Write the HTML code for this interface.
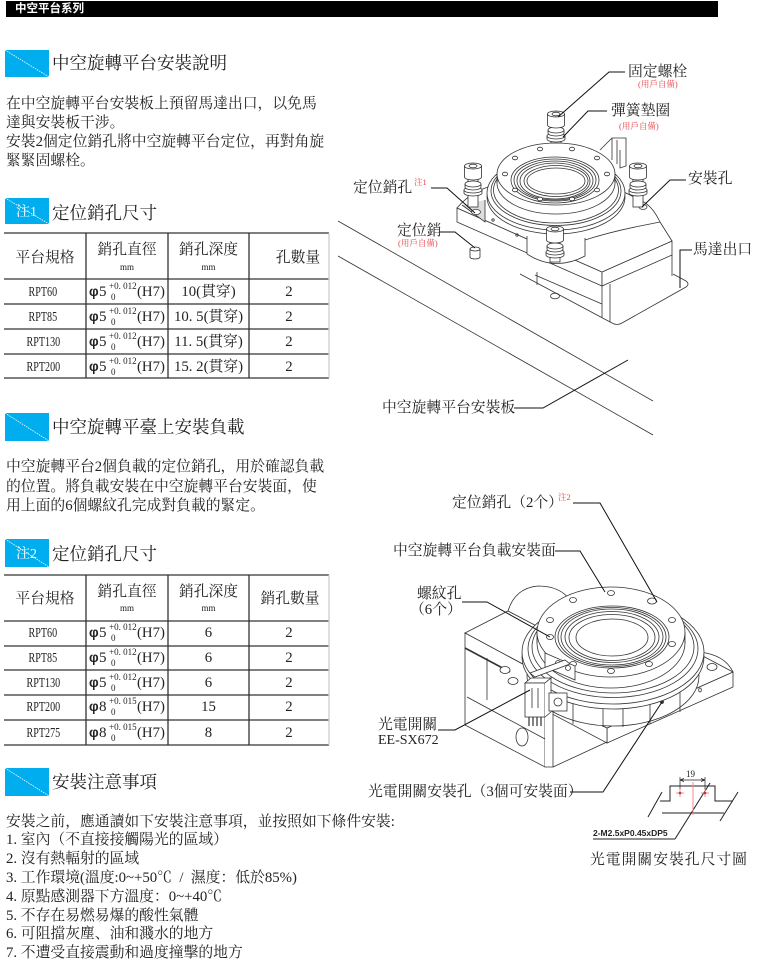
<!DOCTYPE html>
<html><head><meta charset="utf-8"><title>中空平台系列</title>
<style>
html,body{margin:0;padding:0;background:#fff;}
#p{position:relative;width:758px;height:969px;overflow:hidden;background:#fff;}
.t{position:absolute;white-space:nowrap;font-family:"Liberation Serif","Noto Serif CJK SC",serif;color:#222;font-size:14.8px;line-height:20px;}
.c{text-align:center;}
.ti{font-size:17.5px;line-height:24px;color:#222;}
.box{position:absolute;left:5px;width:44px;background:#00aeef;overflow:hidden;}
.box svg{position:absolute;left:0;top:0;}
.bt{position:absolute;left:11px;color:#fff;font-family:"Liberation Serif","Noto Serif CJK SC",serif;font-size:14px;line-height:20px;white-space:nowrap;}
.r{color:#e8454a;font-size:8.5px;line-height:10px;}
.s{font-size:9px;line-height:10px;}
.rpt{display:inline-block;font-size:14px;transform:scaleX(0.72);}
.ph{font-family:"Liberation Sans",sans-serif;font-weight:bold;font-size:13.5px;}
#g{position:absolute;left:0;top:0;}
</style></head><body><div id="p">

<svg id="g" width="758" height="969" viewBox="0 0 758 969">
<!-- header bar -->
<rect x="6" y="1" width="712" height="16" fill="#000"/>

<!-- TABLE 1 -->
<g stroke="#333" stroke-width="1.3">
<line x1="4" y1="233" x2="329" y2="233"/>
<line x1="4" y1="279" x2="329" y2="279"/>
<line x1="4" y1="304" x2="329" y2="304"/>
<line x1="4" y1="329" x2="329" y2="329"/>
<line x1="4" y1="354" x2="329" y2="354"/>
<line x1="4" y1="378" x2="329" y2="378"/>
<line x1="86" y1="233" x2="86" y2="378"/>
<line x1="168" y1="233" x2="168" y2="378"/>
<line x1="249" y1="233" x2="249" y2="378"/>
</g>
<line x1="329" y1="233" x2="329" y2="378" stroke="#ccc" stroke-width="1.3"/>

<!-- TABLE 2 -->
<g stroke="#333" stroke-width="1.3">
<line x1="4" y1="575" x2="329" y2="575"/>
<line x1="4" y1="621" x2="329" y2="621"/>
<line x1="4" y1="646" x2="329" y2="646"/>
<line x1="4" y1="670" x2="329" y2="670"/>
<line x1="4" y1="695" x2="329" y2="695"/>
<line x1="4" y1="720" x2="329" y2="720"/>
<line x1="4" y1="745" x2="329" y2="745"/>
<line x1="86" y1="575" x2="86" y2="745"/>
<line x1="168" y1="575" x2="168" y2="745"/>
<line x1="249" y1="575" x2="249" y2="745"/>
</g>
<line x1="329" y1="575" x2="329" y2="745" stroke="#ccc" stroke-width="1.3"/>

<!-- ========== DIAGRAM 1 ========== -->
<g fill="none" stroke="#333" stroke-width="0.8">
<line x1="338" y1="221" x2="653" y2="401"/>
<line x1="338" y1="256" x2="653" y2="435"/>
<path d="M520,274 L612,323 Q617,326 622,323 L686,287 Q690,284 686,281 L673,274"/>
<path d="M537,272 V285 M602,286 V318 M610,284 V322 M672,255 V276"/>
<ellipse cx="555" cy="296" rx="4.5" ry="2.8"/>
<path d="M535,275 L602,304"/>
<path d="M457,208 L602,272 L602,286 L457,222 Z" fill="#fff"/>
<path d="M602,272 L672,241 L672,255 L602,286 Z" fill="#fff"/>
<path d="M457,208 L602,272 L672,241 L660,222 Q652,205 640,200 L560,160 L480,190 Q466,197 457,208 Z" fill="#fff"/>
<path d="M527,236 V254 Q555,272 585,256 V238" fill="#fff"/>
<path d="M585,240 Q610,232 640,226 L660,222"/>
<path d="M462,205 L485,222 L485,200" fill="#ddd"/>
<ellipse cx="476" cy="212" rx="4.5" ry="2.6" fill="#fff"/>
<circle cx="493" cy="220" r="1.2"/>
<circle cx="517" cy="235" r="1.2"/>
<ellipse cx="643" cy="207" rx="4" ry="2.4"/>

<ellipse cx="556" cy="197" rx="69" ry="37" fill="#fff"/>
<ellipse cx="556" cy="193" rx="69" ry="37" fill="#fff"/>
<ellipse cx="556" cy="191" rx="65" ry="34.5"/>
<ellipse cx="556" cy="190" rx="62.5" ry="33"/>
<ellipse cx="556" cy="183" rx="59" ry="31" fill="#fff"/>
<path d="M497,174 V183 M615,174 V183"/>
<ellipse cx="556" cy="174" rx="59" ry="31" fill="#fff"/>
<ellipse cx="555" cy="180" rx="44" ry="23"/>
<ellipse cx="555" cy="180" rx="41" ry="21"/>
<ellipse cx="555" cy="180.5" rx="38" ry="19.5"/>
<ellipse cx="555" cy="181" rx="35" ry="18"/>
<ellipse cx="556" cy="181" rx="32" ry="15.5"/>
<ellipse cx="556" cy="181" rx="29" ry="13"/>
<g fill="#fff">
<ellipse cx="607" cy="174" rx="2.6" ry="1.8"/>
<ellipse cx="597" cy="190" rx="2.6" ry="1.8"/>
<ellipse cx="572" cy="199" rx="2.6" ry="1.8"/>
<ellipse cx="540" cy="199" rx="2.6" ry="1.8"/>
<ellipse cx="515" cy="190" rx="2.6" ry="1.8"/>
<ellipse cx="505" cy="174" rx="2.6" ry="1.8"/>
<ellipse cx="515" cy="158" rx="2.6" ry="1.8"/>
<ellipse cx="540" cy="149" rx="2.6" ry="1.8"/>
<ellipse cx="572" cy="149" rx="2.6" ry="1.8"/>
<ellipse cx="597" cy="158" rx="2.6" ry="1.8"/>
</g>
<path d="M600,150 L612,138 L626,138 L626,166 L620,168 L620,150" fill="#fff"/>
<path d="M612,138 V160 M617,140 V164"/>

<g transform="translate(556,111)" fill="#fff">
<rect x="-5" y="14" width="10" height="18"/>
<path d="M-9,25 v3 a9,3 0 0,0 18,0 v-3"/><ellipse cx="0" cy="25" rx="9" ry="3"/>
<path d="M-8,19 v3 a8,3 0 0,0 16,0 v-3"/><ellipse cx="0" cy="19" rx="8" ry="3"/>
<path d="M-8.5,3 V14 A8.5,3 0 0,0 8.5,14 V3"/><ellipse cx="0" cy="3" rx="8.5" ry="3"/>
<ellipse cx="0" cy="3" rx="4" ry="1.8"/>
</g>
<g transform="translate(473,163)" fill="#fff">
<rect x="-5" y="14" width="10" height="30"/>
<path d="M-9,27 v3 a9,3 0 0,0 18,0 v-3"/><ellipse cx="0" cy="27" rx="9" ry="3"/>
<path d="M-8,21 v3 a8,3 0 0,0 16,0 v-3"/><ellipse cx="0" cy="21" rx="8" ry="3"/>
<path d="M-8.5,3 V14 A8.5,3 0 0,0 8.5,14 V3"/><ellipse cx="0" cy="3" rx="8.5" ry="3"/>
<ellipse cx="0" cy="3" rx="4" ry="1.8"/>
</g>
<g transform="translate(638,163)" fill="#fff">
<rect x="-5" y="14" width="10" height="30"/>
<path d="M-9,27 v3 a9,3 0 0,0 18,0 v-3"/><ellipse cx="0" cy="27" rx="9" ry="3"/>
<path d="M-8,21 v3 a8,3 0 0,0 16,0 v-3"/><ellipse cx="0" cy="21" rx="8" ry="3"/>
<path d="M-8.5,3 V14 A8.5,3 0 0,0 8.5,14 V3"/><ellipse cx="0" cy="3" rx="8.5" ry="3"/>
<ellipse cx="0" cy="3" rx="4" ry="1.8"/>
</g>
<g transform="translate(555,226)" fill="#fff">
<rect x="-5" y="14" width="10" height="22"/>
<path d="M-9,26 v3 a9,3 0 0,0 18,0 v-3"/><ellipse cx="0" cy="26" rx="9" ry="3"/>
<path d="M-8,20 v3 a8,3 0 0,0 16,0 v-3"/><ellipse cx="0" cy="20" rx="8" ry="3"/>
<path d="M-8.5,3 V14 A8.5,3 0 0,0 8.5,14 V3"/><ellipse cx="0" cy="3" rx="8.5" ry="3"/>
<ellipse cx="0" cy="3" rx="4" ry="1.8"/>
</g>
<path d="M470,249 V257 A5,2 0 0,0 480,257 V249" fill="#fff"/>
<ellipse cx="475" cy="249" rx="5" ry="2" fill="#fff"/>
</g>

<g fill="none" stroke="#111" stroke-width="1">
<path d="M625,72 H609 L558,117"/>
<path d="M607,111 H588 L563,137"/>
<path d="M431,188 H447 L475,213"/>
<path d="M440,232 H455 L475,248"/>
<path d="M686,180 H670 L642,207"/>
<path d="M692,250 H680 V288"/>
<path d="M514,408 H543 L628,360"/>
</g>

<!-- ========== DIAGRAM 2 ========== -->
<g fill="none" stroke="#333" stroke-width="0.8">
<path d="M607,728 L733,672 L733,687 L607,743 Z" fill="#fff"/>
<path d="M490,666 L607,728 L607,743 L490,681 Z" fill="#fff"/>
<path d="M490,666 L607,728 L733,672 L616,610 Z" fill="#fff"/>
<ellipse cx="712" cy="667" rx="5" ry="3.5"/>
<ellipse cx="607" cy="719" rx="5" ry="3.5"/>
<path d="M700,652 Q725,655 733,672"/>
<path d="M508,611 Q515,588 538,586 Q560,586 570,600" fill="#fff"/>
<path d="M465,633 L508,611 L590,654 L545,676 Z" fill="#fff"/>
<path d="M465,633 L545,676 L545,767 L465,725 Z" fill="#fff"/>
<path d="M545,676 L553,672 L553,767 L545,767" fill="#fff"/>
<path d="M553,767 L607,742"/>
<path d="M465,648 L510,672" stroke-width="1.6"/>
<path d="M467,697 L545,739"/>
<path d="M487,658 V700"/>
<ellipse cx="522" cy="737" rx="6" ry="9"/>
<ellipse cx="505" cy="670" rx="5" ry="3.5" fill="#fff"/>
<ellipse cx="513" cy="681" rx="5" ry="3.5" fill="#fff"/>
<ellipse cx="613" cy="676" rx="86" ry="50" fill="#fff"/>
<path d="M573,703 V724 M603,706 V727 M623,706 V727 M650,703 V724 M680,690 V712"/>
<ellipse cx="662" cy="702" rx="1.5" ry="1.5" fill="#333"/>
<ellipse cx="700" cy="690" rx="1.3" ry="2"/>
<ellipse cx="613" cy="657" rx="91" ry="52" fill="#fff"/>
<ellipse cx="613" cy="652" rx="91" ry="52" fill="#fff"/>
<ellipse cx="613" cy="649" rx="85" ry="48.5"/>
<ellipse cx="613" cy="647" rx="81" ry="46"/>
<ellipse cx="611" cy="643" rx="74" ry="45" fill="#fff"/>
<path d="M537,632 V643 M685,632 V643"/>
<ellipse cx="611" cy="632" rx="74" ry="45" fill="#fff"/>
<ellipse cx="612" cy="637" rx="57" ry="31"/>
<ellipse cx="612" cy="637" rx="54" ry="29.5"/>
<ellipse cx="612" cy="637" rx="51" ry="28"/>
<ellipse cx="612" cy="637" rx="47" ry="25.5"/>
<ellipse cx="612" cy="637.5" rx="43" ry="23"/>
<ellipse cx="612" cy="637.5" rx="36" ry="18.5"/>
<g fill="#fff">
<ellipse cx="672" cy="644" rx="3.5" ry="2.5"/>
<ellipse cx="649" cy="664" rx="3.5" ry="2.5"/>
<ellipse cx="611" cy="671" rx="3.5" ry="2.5"/>
<ellipse cx="573" cy="664" rx="3.5" ry="2.5"/>
<ellipse cx="550" cy="637" rx="3.5" ry="2.5"/>
<ellipse cx="550" cy="620" rx="3.5" ry="2.5"/>
<ellipse cx="573" cy="600" rx="3.5" ry="2.5"/>
<ellipse cx="611" cy="593" rx="3.5" ry="2.5"/>
<ellipse cx="652" cy="601" rx="4.5" ry="3"/>
<ellipse cx="672" cy="620" rx="3.5" ry="2.5"/>
</g>
<path d="M545,653 L575,666 L575,680 L545,667 Z" fill="#fff"/>
<circle cx="558" cy="663" r="2.5"/><circle cx="568" cy="668" r="2.5"/>
<path d="M530,673 L565,660 L570,664 L535,677 Z" fill="#fff"/>
<path d="M525,683 L531,678 L551,678 L545,683 Z" fill="#fff"/>
<rect x="525" y="683" width="20" height="34" fill="#fff"/>
<path d="M545,683 L551,678 L551,712 L545,717" fill="#fff"/>
<path d="M532,688 V708 M538,688 V708"/>
<path d="M529,717 V726 M533,717 V726 M537,717 V726 M541,717 V726" stroke-width="1.2"/>
<rect x="549" y="693" width="18" height="18" fill="#fff"/>
<circle cx="558" cy="702" r="4"/>
</g>

<g fill="none" stroke="#111" stroke-width="1">
<path d="M573,503 H600 L657,602"/>
<path d="M555,551 H580 L605,592"/>
<path d="M462,602 H487 L550,637"/>
<path d="M438,730 H455 L530,690"/>
<path d="M570,792 H603 L662,702"/>
</g>

<g fill="none" stroke="#222" stroke-width="1">
<path d="M660,801 H670 V786 H715 V801 H733"/>
<path d="M662,813 H724"/>
<path d="M648,817 L662,792"/>
<path d="M720,821 L738,792"/>
<path d="M675,839 L710,783"/>
<path d="M593,839 H675"/>
<path d="M680,777 V793 M705,777 V793" stroke-width="0.7"/>
<path d="M680,780 H705" stroke-width="0.7"/>
<path d="M680,780 l4,-1.5 M680,780 l4,1.5 M705,780 l-4,-1.5 M705,780 l-4,1.5" stroke-width="0.7"/>
</g>
<g stroke="#f08a8a" stroke-width="1" fill="none">
<path d="M693,782 V815"/>
<path d="M676,793 H684 M680,789 V797 M701,793 H709 M705,789 V797"/>
</g>
<circle cx="680" cy="793" r="1.3" fill="#c33"/>
<circle cx="705" cy="793" r="1.3" fill="#c33"/>
</svg>

<div class="t" style="left:15px;top:1px;line-height:16px;font-family:'Liberation Sans','Noto Sans CJK SC',sans-serif;font-weight:bold;font-size:11.5px;color:#fff;">中空平台系列</div>

<div class="box" style="top:50px;height:27px;"><svg width="44" height="27"><line x1="0" y1="0" x2="44" y2="27" stroke="#fff" stroke-width="0.8" stroke-dasharray="1.5,1"/></svg></div>
<div class="t ti" style="left:52px;top:51px;">中空旋轉平台安裝說明</div>
<div class="t" style="left:6px;top:93.5px;">在中空旋轉平台安裝板上預留馬達出口，以免馬</div>
<div class="t" style="left:6px;top:112.5px;">達與安裝板干涉。</div>
<div class="t" style="left:6px;top:131.5px;">安裝2個定位銷孔將中空旋轉平台定位，再對角旋</div>
<div class="t" style="left:6px;top:150.5px;">緊緊固螺栓。</div>

<div class="box" style="top:198px;height:26px;"><svg width="44" height="26"><line x1="0" y1="0" x2="44" y2="26" stroke="#fff" stroke-width="0.8" stroke-dasharray="1.5,1"/></svg><div class="bt" style="top:5px;">注1</div></div>
<div class="t ti" style="left:52px;top:201px;">定位銷孔尺寸</div>

<div class="t c" style="left:4px;width:82px;top:248px;">平台規格</div>
<div class="t c" style="left:86px;width:82px;top:240px;">銷孔直徑</div>
<div class="t c s" style="left:86px;width:82px;top:262px;">mm</div>
<div class="t c" style="left:168px;width:81px;top:240px;">銷孔深度</div>
<div class="t c s" style="left:168px;width:81px;top:262px;">mm</div>
<div class="t c" style="left:258px;width:80px;top:248px;">孔數量</div>

<div class="t c" style="left:2px;width:82px;top:282px;"><span class="rpt">RPT60</span></div>
<div class="t ph" style="left:89px;top:282px;">φ</div><div class="t" style="left:99px;top:282px;font-size:15px;">5</div>
<div class="t s" style="left:109px;top:281px;">+0. 012</div><div class="t s" style="left:111px;top:292px;">0</div>
<div class="t" style="left:137px;top:282px;">(H7)</div>
<div class="t c" style="left:168px;width:81px;top:282px;">10(貫穿)</div>
<div class="t c" style="left:249px;width:80px;top:282px;">2</div>

<div class="t c" style="left:2px;width:82px;top:307px;"><span class="rpt">RPT85</span></div>
<div class="t ph" style="left:89px;top:307px;">φ</div><div class="t" style="left:99px;top:307px;font-size:15px;">5</div>
<div class="t s" style="left:109px;top:306px;">+0. 012</div><div class="t s" style="left:111px;top:317px;">0</div>
<div class="t" style="left:137px;top:307px;">(H7)</div>
<div class="t c" style="left:168px;width:81px;top:307px;">10. 5(貫穿)</div>
<div class="t c" style="left:249px;width:80px;top:307px;">2</div>

<div class="t c" style="left:2px;width:82px;top:332px;"><span class="rpt">RPT130</span></div>
<div class="t ph" style="left:89px;top:332px;">φ</div><div class="t" style="left:99px;top:332px;font-size:15px;">5</div>
<div class="t s" style="left:109px;top:331px;">+0. 012</div><div class="t s" style="left:111px;top:342px;">0</div>
<div class="t" style="left:137px;top:332px;">(H7)</div>
<div class="t c" style="left:168px;width:81px;top:332px;">11. 5(貫穿)</div>
<div class="t c" style="left:249px;width:80px;top:332px;">2</div>

<div class="t c" style="left:2px;width:82px;top:357px;"><span class="rpt">RPT200</span></div>
<div class="t ph" style="left:89px;top:357px;">φ</div><div class="t" style="left:99px;top:357px;font-size:15px;">5</div>
<div class="t s" style="left:109px;top:356px;">+0. 012</div><div class="t s" style="left:111px;top:367px;">0</div>
<div class="t" style="left:137px;top:357px;">(H7)</div>
<div class="t c" style="left:168px;width:81px;top:357px;">15. 2(貫穿)</div>
<div class="t c" style="left:249px;width:80px;top:357px;">2</div>

<div class="box" style="top:413px;height:28px;"><svg width="44" height="28"><line x1="0" y1="0" x2="44" y2="28" stroke="#fff" stroke-width="0.8" stroke-dasharray="1.5,1"/></svg></div>
<div class="t ti" style="left:52px;top:415px;">中空旋轉平臺上安裝負載</div>
<div class="t" style="left:6px;top:457px;">中空旋轉平台2個負載的定位銷孔，用於確認負載</div>
<div class="t" style="left:6px;top:476.5px;">的位置。將負載安裝在中空旋轉平台安裝面，使</div>
<div class="t" style="left:6px;top:496px;">用上面的6個螺紋孔完成對負載的緊定。</div>

<div class="box" style="top:539px;height:28px;"><svg width="44" height="28"><line x1="0" y1="0" x2="44" y2="28" stroke="#fff" stroke-width="0.8" stroke-dasharray="1.5,1"/></svg><div class="bt" style="top:6px;">注2</div></div>
<div class="t ti" style="left:52px;top:542px;">定位銷孔尺寸</div>

<div class="t c" style="left:4px;width:82px;top:589px;">平台規格</div>
<div class="t c" style="left:86px;width:82px;top:582px;">銷孔直徑</div>
<div class="t c s" style="left:86px;width:82px;top:603px;">mm</div>
<div class="t c" style="left:168px;width:81px;top:582px;">銷孔深度</div>
<div class="t c s" style="left:168px;width:81px;top:603px;">mm</div>
<div class="t c" style="left:249px;width:82px;top:589px;">銷孔數量</div>

<div class="t c" style="left:2px;width:82px;top:623px;"><span class="rpt">RPT60</span></div>
<div class="t ph" style="left:89px;top:623px;">φ</div><div class="t" style="left:99px;top:623px;font-size:15px;">5</div>
<div class="t s" style="left:109px;top:622px;">+0. 012</div><div class="t s" style="left:111px;top:633px;">0</div>
<div class="t" style="left:137px;top:623px;">(H7)</div>
<div class="t c" style="left:168px;width:81px;top:623px;">6</div>
<div class="t c" style="left:249px;width:80px;top:623px;">2</div>

<div class="t c" style="left:2px;width:82px;top:648px;"><span class="rpt">RPT85</span></div>
<div class="t ph" style="left:89px;top:648px;">φ</div><div class="t" style="left:99px;top:648px;font-size:15px;">5</div>
<div class="t s" style="left:109px;top:647px;">+0. 012</div><div class="t s" style="left:111px;top:658px;">0</div>
<div class="t" style="left:137px;top:648px;">(H7)</div>
<div class="t c" style="left:168px;width:81px;top:648px;">6</div>
<div class="t c" style="left:249px;width:80px;top:648px;">2</div>

<div class="t c" style="left:2px;width:82px;top:673px;"><span class="rpt">RPT130</span></div>
<div class="t ph" style="left:89px;top:673px;">φ</div><div class="t" style="left:99px;top:673px;font-size:15px;">5</div>
<div class="t s" style="left:109px;top:672px;">+0. 012</div><div class="t s" style="left:111px;top:683px;">0</div>
<div class="t" style="left:137px;top:673px;">(H7)</div>
<div class="t c" style="left:168px;width:81px;top:673px;">6</div>
<div class="t c" style="left:249px;width:80px;top:673px;">2</div>

<div class="t c" style="left:2px;width:82px;top:697px;"><span class="rpt">RPT200</span></div>
<div class="t ph" style="left:89px;top:697px;">φ</div><div class="t" style="left:99px;top:697px;font-size:15px;">8</div>
<div class="t s" style="left:109px;top:696px;">+0. 015</div><div class="t s" style="left:111px;top:707px;">0</div>
<div class="t" style="left:137px;top:697px;">(H7)</div>
<div class="t c" style="left:168px;width:81px;top:697px;">15</div>
<div class="t c" style="left:249px;width:80px;top:697px;">2</div>

<div class="t c" style="left:2px;width:82px;top:723px;"><span class="rpt">RPT275</span></div>
<div class="t ph" style="left:89px;top:723px;">φ</div><div class="t" style="left:99px;top:723px;font-size:15px;">8</div>
<div class="t s" style="left:109px;top:722px;">+0. 015</div><div class="t s" style="left:111px;top:733px;">0</div>
<div class="t" style="left:137px;top:723px;">(H7)</div>
<div class="t c" style="left:168px;width:81px;top:723px;">8</div>
<div class="t c" style="left:249px;width:80px;top:723px;">2</div>

<div class="box" style="top:768px;height:28px;"><svg width="44" height="28"><line x1="0" y1="0" x2="44" y2="28" stroke="#fff" stroke-width="0.8" stroke-dasharray="1.5,1"/></svg></div>
<div class="t ti" style="left:52px;top:770px;">安裝注意事項</div>
<div class="t" style="left:6px;top:811.7px;">安裝之前，應通讀如下安裝注意事項，並按照如下條件安裝:</div>
<div class="t" style="left:6px;top:830px;">1. 室內（不直接接觸陽光的區域）</div>
<div class="t" style="left:6px;top:849px;">2. 沒有熱輻射的區域</div>
<div class="t" style="left:6px;top:868px;">3. 工作環境(溫度:0~+50℃ &nbsp;/ &nbsp;濕度：低於85%)</div>
<div class="t" style="left:6px;top:886.7px;">4. 原點感測器下方溫度：0~+40℃</div>
<div class="t" style="left:6px;top:905.7px;">5. 不存在易燃易爆的酸性氣體</div>
<div class="t" style="left:6px;top:924.3px;">6. 可阻擋灰塵、油和濺水的地方</div>
<div class="t" style="left:6px;top:943.3px;">7. 不遭受直接震動和過度撞擊的地方</div>

<div class="t" style="left:628px;top:62px;">固定螺栓</div>
<div class="t r" style="left:638px;top:79px;">(用戶自備)</div>
<div class="t" style="left:611px;top:101px;">彈簧墊圈</div>
<div class="t r" style="left:619px;top:121px;">(用戶自備)</div>
<div class="t" style="left:353px;top:178px;">定位銷孔</div>
<div class="t r" style="left:414px;top:177px;">注1</div>
<div class="t" style="left:397px;top:221px;">定位銷</div>
<div class="t r" style="left:398px;top:238px;">(用戶自備)</div>
<div class="t" style="left:688px;top:169px;">安裝孔</div>
<div class="t" style="left:693px;top:240px;">馬達出口</div>
<div class="t" style="left:382px;top:398px;">中空旋轉平台安裝板</div>

<div class="t" style="left:452px;top:493px;">定位銷孔（2个）</div>
<div class="t r" style="left:558px;top:492px;">注2</div>
<div class="t" style="left:393px;top:541px;">中空旋轉平台負載安裝面</div>
<div class="t" style="left:417px;top:584px;">螺紋孔</div>
<div class="t" style="left:410px;top:600px;">（6个）</div>
<div class="t" style="left:378px;top:715px;">光電開關</div>
<div class="t" style="left:378px;top:731px;font-size:14px;">EE-SX672</div>
<div class="t" style="left:368px;top:782px;">光電開關安裝孔（3個可安裝面）</div>

<div class="t s" style="left:686px;top:769px;">19</div>
<div class="t" style="left:593px;top:828px;font-family:'Liberation Sans',sans-serif;font-size:8.5px;line-height:10px;font-weight:bold;">2-M2.5xP0.45xDP5</div>
<div class="t" style="left:590px;top:850px;letter-spacing:1px;">光電開關安裝孔尺寸圖</div>

</div></body></html>
